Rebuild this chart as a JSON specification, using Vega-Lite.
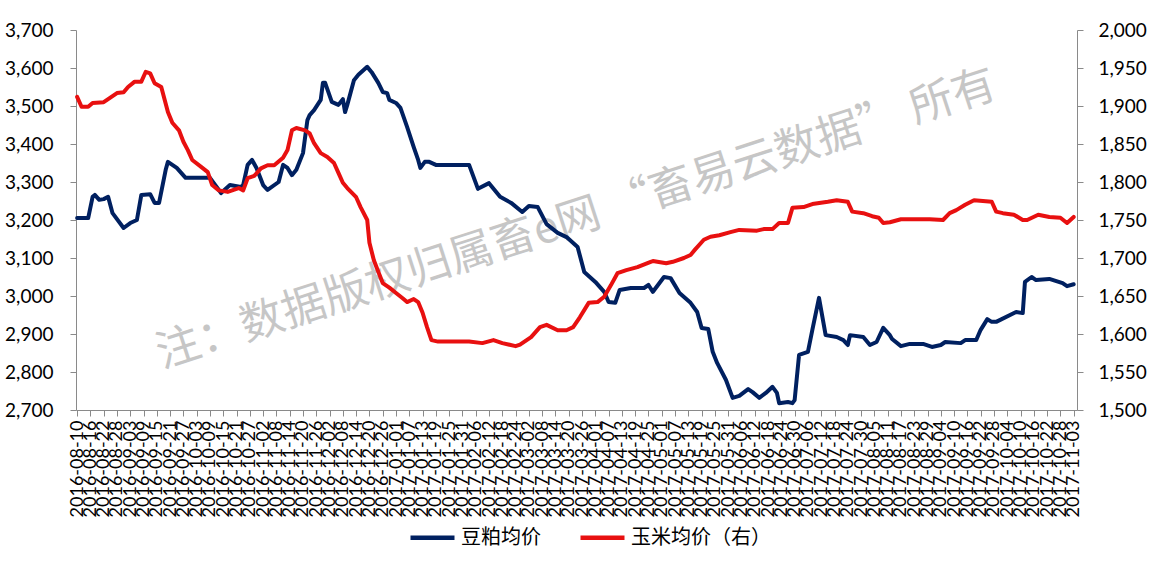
{
  "$schema": "https://vega.github.io/schema/vega-lite/v6.json",
  "width": 1001,
  "height": 380,
  "autosize": "none",
  "padding": {"left": 76, "top": 30, "right": 77, "bottom": 159},
  "background": "white",
  "config": {
    "view": {"stroke": null},
    "axis": {"domainColor": "#8a8a8a", "tickColor": "#8a8a8a", "labelColor": "#000000", "labelFont": "Lato", "grid": false}
  },
  "datasets": {
    "soy": [
      {"date": "2016-08-10", "price": 3205}, {"date": "2016-08-15", "price": 3205}, {"date": "2016-08-17", "price": 3261}, {"date": "2016-08-18", "price": 3266},
      {"date": "2016-08-20", "price": 3253}, {"date": "2016-08-22", "price": 3255}, {"date": "2016-08-24", "price": 3261}, {"date": "2016-08-26", "price": 3218},
      {"date": "2016-08-31", "price": 3179}, {"date": "2016-09-03", "price": 3192}, {"date": "2016-09-06", "price": 3200}, {"date": "2016-09-08", "price": 3266},
      {"date": "2016-09-12", "price": 3268}, {"date": "2016-09-14", "price": 3245}, {"date": "2016-09-16", "price": 3245}, {"date": "2016-09-19", "price": 3332},
      {"date": "2016-09-20", "price": 3353}, {"date": "2016-09-24", "price": 3337}, {"date": "2016-09-28", "price": 3311}, {"date": "2016-10-06", "price": 3311},
      {"date": "2016-10-09", "price": 3311}, {"date": "2016-10-12", "price": 3287}, {"date": "2016-10-14", "price": 3271}, {"date": "2016-10-18", "price": 3292},
      {"date": "2016-10-23", "price": 3287}, {"date": "2016-10-24", "price": 3292}, {"date": "2016-10-26", "price": 3345}, {"date": "2016-10-28", "price": 3358},
      {"date": "2016-10-30", "price": 3337}, {"date": "2016-11-02", "price": 3292}, {"date": "2016-11-04", "price": 3279}, {"date": "2016-11-09", "price": 3300},
      {"date": "2016-11-11", "price": 3345}, {"date": "2016-11-13", "price": 3337}, {"date": "2016-11-15", "price": 3318}, {"date": "2016-11-17", "price": 3332},
      {"date": "2016-11-20", "price": 3376}, {"date": "2016-11-22", "price": 3463}, {"date": "2016-11-23", "price": 3476}, {"date": "2016-11-25", "price": 3489},
      {"date": "2016-11-28", "price": 3516}, {"date": "2016-11-29", "price": 3561}, {"date": "2016-11-30", "price": 3561}, {"date": "2016-12-03", "price": 3511},
      {"date": "2016-12-06", "price": 3503}, {"date": "2016-12-08", "price": 3518}, {"date": "2016-12-09", "price": 3484}, {"date": "2016-12-10", "price": 3503},
      {"date": "2016-12-13", "price": 3568}, {"date": "2016-12-15", "price": 3582}, {"date": "2016-12-19", "price": 3603}, {"date": "2016-12-21", "price": 3589},
      {"date": "2016-12-24", "price": 3561}, {"date": "2016-12-26", "price": 3537}, {"date": "2016-12-28", "price": 3534}, {"date": "2016-12-29", "price": 3516},
      {"date": "2017-01-01", "price": 3508}, {"date": "2017-01-03", "price": 3495}, {"date": "2017-01-06", "price": 3445}, {"date": "2017-01-09", "price": 3392},
      {"date": "2017-01-11", "price": 3358}, {"date": "2017-01-12", "price": 3337}, {"date": "2017-01-14", "price": 3353}, {"date": "2017-01-16", "price": 3353},
      {"date": "2017-01-19", "price": 3345}, {"date": "2017-02-03", "price": 3345}, {"date": "2017-02-07", "price": 3282}, {"date": "2017-02-12", "price": 3297},
      {"date": "2017-02-17", "price": 3261}, {"date": "2017-02-22", "price": 3245}, {"date": "2017-02-27", "price": 3221}, {"date": "2017-03-02", "price": 3237},
      {"date": "2017-03-06", "price": 3234}, {"date": "2017-03-10", "price": 3189}, {"date": "2017-03-15", "price": 3166}, {"date": "2017-03-19", "price": 3155},
      {"date": "2017-03-24", "price": 3129}, {"date": "2017-03-27", "price": 3063}, {"date": "2017-04-01", "price": 3037}, {"date": "2017-04-05", "price": 3011},
      {"date": "2017-04-07", "price": 2984}, {"date": "2017-04-10", "price": 2982}, {"date": "2017-04-12", "price": 3016}, {"date": "2017-04-17", "price": 3021},
      {"date": "2017-04-23", "price": 3021}, {"date": "2017-04-25", "price": 3029}, {"date": "2017-04-27", "price": 3011}, {"date": "2017-05-02", "price": 3050},
      {"date": "2017-05-05", "price": 3047}, {"date": "2017-05-09", "price": 3008}, {"date": "2017-05-14", "price": 2982}, {"date": "2017-05-17", "price": 2958},
      {"date": "2017-05-19", "price": 2916}, {"date": "2017-05-22", "price": 2913}, {"date": "2017-05-24", "price": 2853}, {"date": "2017-05-26", "price": 2824},
      {"date": "2017-05-30", "price": 2779}, {"date": "2017-06-02", "price": 2732}, {"date": "2017-06-05", "price": 2737}, {"date": "2017-06-09", "price": 2755},
      {"date": "2017-06-11", "price": 2747}, {"date": "2017-06-14", "price": 2732}, {"date": "2017-06-17", "price": 2745}, {"date": "2017-06-20", "price": 2761},
      {"date": "2017-06-22", "price": 2745}, {"date": "2017-06-23", "price": 2718}, {"date": "2017-06-27", "price": 2721}, {"date": "2017-06-29", "price": 2718},
      {"date": "2017-06-30", "price": 2726}, {"date": "2017-07-02", "price": 2845}, {"date": "2017-07-06", "price": 2853}, {"date": "2017-07-08", "price": 2911},
      {"date": "2017-07-11", "price": 2995}, {"date": "2017-07-14", "price": 2897}, {"date": "2017-07-19", "price": 2892}, {"date": "2017-07-22", "price": 2884},
      {"date": "2017-07-24", "price": 2871}, {"date": "2017-07-25", "price": 2897}, {"date": "2017-07-31", "price": 2892}, {"date": "2017-08-03", "price": 2871},
      {"date": "2017-08-06", "price": 2879}, {"date": "2017-08-09", "price": 2916}, {"date": "2017-08-12", "price": 2897}, {"date": "2017-08-13", "price": 2887},
      {"date": "2017-08-17", "price": 2868}, {"date": "2017-08-21", "price": 2874}, {"date": "2017-08-27", "price": 2874}, {"date": "2017-08-31", "price": 2866},
      {"date": "2017-09-04", "price": 2871}, {"date": "2017-09-06", "price": 2879}, {"date": "2017-09-13", "price": 2876}, {"date": "2017-09-15", "price": 2884},
      {"date": "2017-09-20", "price": 2884}, {"date": "2017-09-22", "price": 2911}, {"date": "2017-09-25", "price": 2939}, {"date": "2017-09-27", "price": 2932},
      {"date": "2017-09-29", "price": 2932}, {"date": "2017-10-08", "price": 2958}, {"date": "2017-10-11", "price": 2955}, {"date": "2017-10-12", "price": 3037},
      {"date": "2017-10-15", "price": 3050}, {"date": "2017-10-17", "price": 3042}, {"date": "2017-10-23", "price": 3045}, {"date": "2017-10-29", "price": 3034},
      {"date": "2017-10-31", "price": 3026}, {"date": "2017-11-03", "price": 3031}
    ],
    "corn": [
      {"date": "2016-08-10", "price": 1912}, {"date": "2016-08-12", "price": 1899}, {"date": "2016-08-15", "price": 1899}, {"date": "2016-08-17", "price": 1904},
      {"date": "2016-08-22", "price": 1905}, {"date": "2016-08-25", "price": 1911}, {"date": "2016-08-28", "price": 1917}, {"date": "2016-08-31", "price": 1918},
      {"date": "2016-09-02", "price": 1925}, {"date": "2016-09-05", "price": 1932}, {"date": "2016-09-08", "price": 1932}, {"date": "2016-09-10", "price": 1945},
      {"date": "2016-09-12", "price": 1943}, {"date": "2016-09-14", "price": 1930}, {"date": "2016-09-17", "price": 1925}, {"date": "2016-09-20", "price": 1892},
      {"date": "2016-09-22", "price": 1878}, {"date": "2016-09-25", "price": 1868}, {"date": "2016-09-27", "price": 1853}, {"date": "2016-09-29", "price": 1842},
      {"date": "2016-10-01", "price": 1829}, {"date": "2016-10-05", "price": 1820}, {"date": "2016-10-08", "price": 1813}, {"date": "2016-10-10", "price": 1796},
      {"date": "2016-10-13", "price": 1789}, {"date": "2016-10-17", "price": 1787}, {"date": "2016-10-19", "price": 1789}, {"date": "2016-10-22", "price": 1792},
      {"date": "2016-10-24", "price": 1789}, {"date": "2016-10-26", "price": 1805}, {"date": "2016-10-29", "price": 1808}, {"date": "2016-11-01", "price": 1818},
      {"date": "2016-11-04", "price": 1822}, {"date": "2016-11-07", "price": 1822}, {"date": "2016-11-11", "price": 1832}, {"date": "2016-11-13", "price": 1842},
      {"date": "2016-11-15", "price": 1868}, {"date": "2016-11-17", "price": 1871}, {"date": "2016-11-21", "price": 1868}, {"date": "2016-11-23", "price": 1864},
      {"date": "2016-11-25", "price": 1851}, {"date": "2016-11-28", "price": 1838}, {"date": "2016-12-01", "price": 1833}, {"date": "2016-12-04", "price": 1825},
      {"date": "2016-12-06", "price": 1812}, {"date": "2016-12-08", "price": 1799}, {"date": "2016-12-10", "price": 1792}, {"date": "2016-12-14", "price": 1780},
      {"date": "2016-12-16", "price": 1767}, {"date": "2016-12-19", "price": 1750}, {"date": "2016-12-20", "price": 1720}, {"date": "2016-12-22", "price": 1697},
      {"date": "2016-12-24", "price": 1682}, {"date": "2016-12-26", "price": 1667}, {"date": "2016-12-29", "price": 1661}, {"date": "2017-01-01", "price": 1654},
      {"date": "2017-01-04", "price": 1647}, {"date": "2017-01-06", "price": 1642}, {"date": "2017-01-09", "price": 1646}, {"date": "2017-01-11", "price": 1642},
      {"date": "2017-01-13", "price": 1628}, {"date": "2017-01-15", "price": 1609}, {"date": "2017-01-17", "price": 1592}, {"date": "2017-01-20", "price": 1590},
      {"date": "2017-02-03", "price": 1590}, {"date": "2017-02-09", "price": 1588}, {"date": "2017-02-14", "price": 1592}, {"date": "2017-02-18", "price": 1588},
      {"date": "2017-02-24", "price": 1584}, {"date": "2017-02-26", "price": 1586}, {"date": "2017-03-03", "price": 1596}, {"date": "2017-03-07", "price": 1609},
      {"date": "2017-03-10", "price": 1612}, {"date": "2017-03-15", "price": 1605}, {"date": "2017-03-19", "price": 1605}, {"date": "2017-03-22", "price": 1609},
      {"date": "2017-03-25", "price": 1622}, {"date": "2017-03-29", "price": 1641}, {"date": "2017-04-02", "price": 1642}, {"date": "2017-04-05", "price": 1649},
      {"date": "2017-04-08", "price": 1664}, {"date": "2017-04-11", "price": 1680}, {"date": "2017-04-15", "price": 1684}, {"date": "2017-04-20", "price": 1688},
      {"date": "2017-04-26", "price": 1695}, {"date": "2017-04-27", "price": 1696}, {"date": "2017-05-03", "price": 1693}, {"date": "2017-05-06", "price": 1695},
      {"date": "2017-05-11", "price": 1700}, {"date": "2017-05-14", "price": 1704}, {"date": "2017-05-16", "price": 1711}, {"date": "2017-05-20", "price": 1724},
      {"date": "2017-05-23", "price": 1728}, {"date": "2017-05-27", "price": 1730}, {"date": "2017-06-01", "price": 1734}, {"date": "2017-06-05", "price": 1737},
      {"date": "2017-06-13", "price": 1736}, {"date": "2017-06-16", "price": 1738}, {"date": "2017-06-20", "price": 1738}, {"date": "2017-06-23", "price": 1746},
      {"date": "2017-06-27", "price": 1746}, {"date": "2017-06-29", "price": 1766}, {"date": "2017-07-04", "price": 1767}, {"date": "2017-07-08", "price": 1771},
      {"date": "2017-07-15", "price": 1774}, {"date": "2017-07-19", "price": 1776}, {"date": "2017-07-24", "price": 1774}, {"date": "2017-07-26", "price": 1761},
      {"date": "2017-07-31", "price": 1759}, {"date": "2017-08-04", "price": 1755}, {"date": "2017-08-07", "price": 1753}, {"date": "2017-08-09", "price": 1746},
      {"date": "2017-08-12", "price": 1747}, {"date": "2017-08-17", "price": 1751}, {"date": "2017-08-30", "price": 1751}, {"date": "2017-09-05", "price": 1750},
      {"date": "2017-09-08", "price": 1759}, {"date": "2017-09-11", "price": 1763}, {"date": "2017-09-15", "price": 1770}, {"date": "2017-09-19", "price": 1776},
      {"date": "2017-09-23", "price": 1775}, {"date": "2017-09-27", "price": 1774}, {"date": "2017-09-29", "price": 1761}, {"date": "2017-10-02", "price": 1759},
      {"date": "2017-10-07", "price": 1757}, {"date": "2017-10-11", "price": 1750}, {"date": "2017-10-13", "price": 1750}, {"date": "2017-10-18", "price": 1757},
      {"date": "2017-10-23", "price": 1754}, {"date": "2017-10-28", "price": 1753}, {"date": "2017-10-31", "price": 1746}, {"date": "2017-11-03", "price": 1754}
    ]
  },
  "layer": [
    {
      "data": {"values": [{}]},
      "mark": {"type": "text", "text": "注：数据版权归属畜e网 “畜易云数据” 所有", "angle": -18, "fontSize": 44, "font": "Noto Sans CJK SC", "color": "#8f8f8f", "opacity": 0.5, "align": "center", "baseline": "middle"},
      "encoding": {}
    },
    {
      "data": {"name": "soy"},
      "mark": {"type": "line", "strokeWidth": 4, "strokeJoin": "round", "strokeCap": "round"},
      "encoding": {
        "x": {"field": "date", "type": "temporal",
              "scale": {"type": "utc", "domain": [{"year": 2016, "month": 8, "date": 9, "hours": 12, "utc": true}, {"year": 2017, "month": 11, "date": 4, "hours": 12, "utc": true}]},
              "axis": {"title": null, "format": "%Y-%m-%d", "tickCount": 200, "labelAngle": -90, "labelFontSize": 18, "labelOverlap": false, "labelBound": false, "labelFlush": false, "labelPadding": 4, "tickSize": 6,
                "values": [
                  {"year": 2016, "month": 8, "date": 10, "utc": true}, {"year": 2016, "month": 8, "date": 16, "utc": true}, {"year": 2016, "month": 8, "date": 22, "utc": true}, {"year": 2016, "month": 8, "date": 28, "utc": true},
                  {"year": 2016, "month": 9, "date": 3, "utc": true}, {"year": 2016, "month": 9, "date": 9, "utc": true}, {"year": 2016, "month": 9, "date": 15, "utc": true}, {"year": 2016, "month": 9, "date": 21, "utc": true},
                  {"year": 2016, "month": 9, "date": 27, "utc": true}, {"year": 2016, "month": 10, "date": 3, "utc": true}, {"year": 2016, "month": 10, "date": 9, "utc": true}, {"year": 2016, "month": 10, "date": 15, "utc": true},
                  {"year": 2016, "month": 10, "date": 21, "utc": true}, {"year": 2016, "month": 10, "date": 27, "utc": true}, {"year": 2016, "month": 11, "date": 2, "utc": true}, {"year": 2016, "month": 11, "date": 8, "utc": true},
                  {"year": 2016, "month": 11, "date": 14, "utc": true}, {"year": 2016, "month": 11, "date": 20, "utc": true}, {"year": 2016, "month": 11, "date": 26, "utc": true}, {"year": 2016, "month": 12, "date": 2, "utc": true},
                  {"year": 2016, "month": 12, "date": 8, "utc": true}, {"year": 2016, "month": 12, "date": 14, "utc": true}, {"year": 2016, "month": 12, "date": 20, "utc": true}, {"year": 2016, "month": 12, "date": 26, "utc": true},
                  {"year": 2017, "month": 1, "date": 1, "utc": true}, {"year": 2017, "month": 1, "date": 7, "utc": true}, {"year": 2017, "month": 1, "date": 13, "utc": true}, {"year": 2017, "month": 1, "date": 19, "utc": true},
                  {"year": 2017, "month": 1, "date": 25, "utc": true}, {"year": 2017, "month": 1, "date": 31, "utc": true}, {"year": 2017, "month": 2, "date": 6, "utc": true}, {"year": 2017, "month": 2, "date": 12, "utc": true},
                  {"year": 2017, "month": 2, "date": 18, "utc": true}, {"year": 2017, "month": 2, "date": 24, "utc": true}, {"year": 2017, "month": 3, "date": 2, "utc": true}, {"year": 2017, "month": 3, "date": 8, "utc": true},
                  {"year": 2017, "month": 3, "date": 14, "utc": true}, {"year": 2017, "month": 3, "date": 20, "utc": true}, {"year": 2017, "month": 3, "date": 26, "utc": true}, {"year": 2017, "month": 4, "date": 1, "utc": true},
                  {"year": 2017, "month": 4, "date": 7, "utc": true}, {"year": 2017, "month": 4, "date": 13, "utc": true}, {"year": 2017, "month": 4, "date": 19, "utc": true}, {"year": 2017, "month": 4, "date": 25, "utc": true},
                  {"year": 2017, "month": 5, "date": 1, "utc": true}, {"year": 2017, "month": 5, "date": 7, "utc": true}, {"year": 2017, "month": 5, "date": 13, "utc": true}, {"year": 2017, "month": 5, "date": 19, "utc": true},
                  {"year": 2017, "month": 5, "date": 25, "utc": true}, {"year": 2017, "month": 5, "date": 31, "utc": true}, {"year": 2017, "month": 6, "date": 6, "utc": true}, {"year": 2017, "month": 6, "date": 12, "utc": true},
                  {"year": 2017, "month": 6, "date": 18, "utc": true}, {"year": 2017, "month": 6, "date": 24, "utc": true}, {"year": 2017, "month": 6, "date": 30, "utc": true}, {"year": 2017, "month": 7, "date": 6, "utc": true},
                  {"year": 2017, "month": 7, "date": 12, "utc": true}, {"year": 2017, "month": 7, "date": 18, "utc": true}, {"year": 2017, "month": 7, "date": 24, "utc": true}, {"year": 2017, "month": 7, "date": 30, "utc": true},
                  {"year": 2017, "month": 8, "date": 5, "utc": true}, {"year": 2017, "month": 8, "date": 11, "utc": true}, {"year": 2017, "month": 8, "date": 17, "utc": true}, {"year": 2017, "month": 8, "date": 23, "utc": true},
                  {"year": 2017, "month": 8, "date": 29, "utc": true}, {"year": 2017, "month": 9, "date": 4, "utc": true}, {"year": 2017, "month": 9, "date": 10, "utc": true}, {"year": 2017, "month": 9, "date": 16, "utc": true},
                  {"year": 2017, "month": 9, "date": 22, "utc": true}, {"year": 2017, "month": 9, "date": 28, "utc": true}, {"year": 2017, "month": 10, "date": 4, "utc": true}, {"year": 2017, "month": 10, "date": 10, "utc": true},
                  {"year": 2017, "month": 10, "date": 16, "utc": true}, {"year": 2017, "month": 10, "date": 22, "utc": true}, {"year": 2017, "month": 10, "date": 28, "utc": true}, {"year": 2017, "month": 11, "date": 3, "utc": true}
                ]}},
        "y": {"field": "price", "type": "quantitative", "scale": {"domain": [2700, 3700], "nice": false, "zero": false},
              "axis": {"orient": "left", "title": null, "values": [2700, 2800, 2900, 3000, 3100, 3200, 3300, 3400, 3500, 3600, 3700], "format": ",d", "labelFontSize": 19, "tickSize": 6, "labelPadding": 17}},
        "color": {"datum": "豆粕均价", "type": "nominal",
                  "scale": {"domain": ["豆粕均价", "玉米均价（右）"], "range": ["#002060", "#E81010"]},
                  "legend": {"title": null, "orient": "none", "legendX": 332, "legendY": 483, "direction": "horizontal", "symbolType": "stroke", "symbolStrokeWidth": 4.5, "symbolSize": 1936, "labelFont": "Noto Sans CJK SC", "labelFontSize": 20, "labelColor": "#000000", "labelOffset": 4, "columnPadding": 30, "labelLimit": 300}}
      }
    },
    {
      "data": {"name": "corn"},
      "mark": {"type": "line", "strokeWidth": 4, "strokeJoin": "round", "strokeCap": "round"},
      "encoding": {
        "x": {"field": "date", "type": "temporal",
              "scale": {"type": "utc", "domain": [{"year": 2016, "month": 8, "date": 9, "hours": 12, "utc": true}, {"year": 2017, "month": 11, "date": 4, "hours": 12, "utc": true}]}},
        "y": {"field": "price", "type": "quantitative", "scale": {"domain": [1500, 2000], "nice": false, "zero": false},
              "axis": {"orient": "right", "title": null, "values": [1500, 1550, 1600, 1650, 1700, 1750, 1800, 1850, 1900, 1950, 2000], "format": ",d", "labelFontSize": 19, "tickSize": 6, "labelPadding": 15}},
        "color": {"datum": "玉米均价（右）", "type": "nominal"}
      }
    }
  ],
  "resolve": {"scale": {"y": "independent"}}
}
